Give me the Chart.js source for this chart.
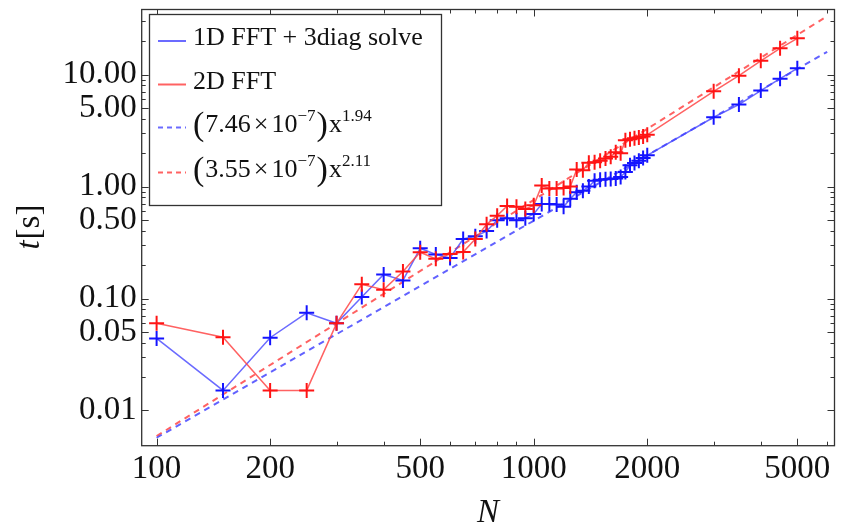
<!DOCTYPE html>
<html>
<head>
<meta charset="utf-8">
<script src="https://cdn.jsdelivr.net/npm/chart.js@4.4.1/dist/chart.umd.min.js"></script>
<style>
  html, body { margin: 0; padding: 0; background: #fff; }
  #wrap { width: 844px; height: 531px; }
</style>
</head>
<body>
<div id="wrap"><canvas id="timingChart" width="844" height="531"></canvas></div>
<script>
// grid sizes N and measured run times t[s]
const nValues = [100, 150, 200, 250, 300, 350, 400, 450, 500, 550,
  600, 650, 700, 750, 800, 850, 900, 950, 1000, 1050,
  1100, 1150, 1200, 1250, 1300, 1350, 1400, 1450, 1500, 1550,
  1600, 1650, 1700, 1750, 1800, 1850, 1900, 1950, 2000, 3000,
  3500, 4000, 4500, 5000];
const fftSolveTimes = [0.044, 0.0151, 0.0446, 0.0745, 0.060, 0.103, 0.164, 0.145, 0.281, 0.247,
  0.230, 0.340, 0.360, 0.400, 0.500, 0.520, 0.500, 0.520, 0.570, 0.700,
  0.700, 0.690, 0.660, 0.780, 0.890, 0.920, 1.000, 1.130, 1.150, 1.160,
  1.170, 1.180, 1.220, 1.350, 1.550, 1.620, 1.700, 1.800, 1.900, 4.16,
  5.40, 7.20, 9.20, 11.4];
const fft2dTimes = [0.060, 0.0451, 0.0151, 0.0151, 0.060, 0.134, 0.120, 0.174, 0.259, 0.226,
  0.250, 0.260, 0.340, 0.460, 0.550, 0.670, 0.660, 0.630, 0.680, 1.020,
  0.960, 0.960, 0.970, 1.000, 1.420, 1.400, 1.630, 1.650, 1.700, 1.780,
  1.850, 2.030, 1.980, 2.600, 2.650, 2.700, 2.750, 2.800, 2.900, 7.10,
  9.80, 13.3, 17.2, 21.1];

// power-law fits, end points
const fitN = [100, 6000];
const fftSolveFit = [0.0057, 16.0];
const fft2dFit = [0.0059, 33.3];

const seriesNames = ['1D FFT + 3diag solve', '2D FFT'];
const fitCoefficients = ['7.46', '3.55'];
const fitExponents = ['1.94', '2.11'];

const xTickValues = [100, 200, 500, 1000, 2000, 5000];
const xMinorTicks = [300, 400, 600, 700, 800, 900, 3000, 4000, 6000];
const yTickValues = [0.01, 0.05, 0.1, 0.5, 1, 5, 10];
const yMinorTicks = [0.02, 0.03, 0.04, 0.06, 0.07, 0.08, 0.09, 0.2, 0.3, 0.4,
  0.6, 0.7, 0.8, 0.9, 2, 3, 4, 6, 7, 8, 9, 20, 30];

const BLUE = 'rgb(20,20,255)';
const BLUE_LINE = 'rgba(70,70,255,0.8)';
const RED = 'rgb(255,20,20)';
const RED_LINE = 'rgba(255,70,70,0.85)';
const SERIF = '"Liberation Serif", "DejaVu Serif", serif';

const toPoints = (xs, ys) => xs.map((x, i) => ({ x: x, y: ys[i] }));

const frameTicks = {
  id: 'frameTicks',
  afterDatasetsDraw(chart) {
    const { ctx, chartArea: a, scales } = chart;
    ctx.save();
    ctx.strokeStyle = '#333';
    ctx.lineWidth = 1.3;
    ctx.strokeRect(a.left, a.top, a.width, a.height);
    ctx.lineWidth = 1;
    const xTick = (v, len) => {
      const px = Math.round(scales.x.getPixelForValue(v)) + 0.5;
      ctx.beginPath();
      ctx.moveTo(px, a.bottom); ctx.lineTo(px, a.bottom - len);
      ctx.moveTo(px, a.top); ctx.lineTo(px, a.top + len);
      ctx.stroke();
    };
    const yTick = (v, len) => {
      const py = Math.round(scales.y.getPixelForValue(v)) + 0.5;
      ctx.beginPath();
      ctx.moveTo(a.left, py); ctx.lineTo(a.left + len, py);
      ctx.moveTo(a.right, py); ctx.lineTo(a.right - len, py);
      ctx.stroke();
    };
    xTickValues.forEach(v => xTick(v, 7));
    xMinorTicks.forEach(v => xTick(v, 4));
    yTickValues.forEach(v => yTick(v, 7));
    yMinorTicks.forEach(v => yTick(v, 4));

    // axis titles
    ctx.fillStyle = '#111';
    ctx.textAlign = 'center';
    ctx.textBaseline = 'middle';
    ctx.font = 'italic 33px ' + SERIF;
    ctx.fillText('N', (a.left + a.right) / 2, 513);

    ctx.translate(30, (a.top + a.bottom) / 2);
    ctx.rotate(-Math.PI / 2);
    ctx.textAlign = 'left';
    ctx.font = 'italic 33px ' + SERIF;
    const wT = ctx.measureText('t').width;
    ctx.font = '33px ' + SERIF;
    const wS = ctx.measureText('[s]').width;
    let sx = -(wT + wS) / 2;
    ctx.font = 'italic 33px ' + SERIF;
    ctx.fillText('t', sx, 0);
    ctx.font = '33px ' + SERIF;
    ctx.fillText('[s]', sx + wT + 1, 0);
    ctx.restore();
  }
};

const insetLegend = {
  id: 'insetLegend',
  afterDraw(chart) {
    const ctx = chart.ctx;
    ctx.save();
    ctx.fillStyle = '#fff';
    ctx.fillRect(149.5, 14.5, 292, 191);
    ctx.strokeStyle = '#333';
    ctx.lineWidth = 1.3;
    ctx.strokeRect(149.5, 14.5, 292, 191);

    const baselines = [45, 88.5, 131.5, 176.5];
    const colors = [BLUE_LINE, RED_LINE, BLUE_LINE, RED_LINE];
    const textX = 193;
    baselines.forEach((b, i) => {
      ctx.strokeStyle = colors[i];
      ctx.lineWidth = 2;
      ctx.setLineDash(i < 2 ? [] : [5, 4]);
      ctx.beginPath();
      ctx.moveTo(158, b - 4);
      ctx.lineTo(186, b - 4);
      ctx.stroke();
    });
    ctx.setLineDash([]);
    ctx.fillStyle = '#111';
    ctx.textBaseline = 'alphabetic';
    ctx.textAlign = 'left';
    ctx.font = '26px ' + SERIF;
    ctx.fillText(seriesNames[0], textX, baselines[0]);
    ctx.fillText(seriesNames[1], textX, baselines[1]);

    [0, 1].forEach(i => {
      const b = baselines[i + 2];
      let x = textX;
      const put = (txt, font, dy, gap) => {
        ctx.font = font;
        ctx.fillText(txt, x, b + dy);
        x += ctx.measureText(txt).width + (gap || 0);
      };
      put('(', '34px ' + SERIF, 3, 1);
      put(fitCoefficients[i], '26px ' + SERIF, 0, 3);
      put('\u00d7', '26px ' + SERIF, 0, 3);
      put('10', '26px ' + SERIF, 0, 0);
      put('\u22127', '17px ' + SERIF, -11, 1);
      put(')', '34px ' + SERIF, 3, 1);
      put('x', '26px ' + SERIF, 0, 0);
      put(fitExponents[i], '17px ' + SERIF, -11, 0);
    });
    ctx.restore();
  }
};

new Chart(document.getElementById('timingChart'), {
  type: 'line',
  data: {
    datasets: [
      {
        label: seriesNames[1],
        data: toPoints(nValues, fft2dTimes),
        borderColor: RED_LINE,
        borderWidth: 1.5,
        pointStyle: 'cross',
        pointRadius: 7.5,
        pointBorderWidth: 2,
        pointBorderColor: RED,
        fill: false,
        order: 1
      },
      {
        label: seriesNames[0],
        data: toPoints(nValues, fftSolveTimes),
        borderColor: BLUE_LINE,
        borderWidth: 1.5,
        pointStyle: 'cross',
        pointRadius: 7.5,
        pointBorderWidth: 2,
        pointBorderColor: BLUE,
        fill: false,
        order: 2
      },
      {
        label: 'fit 1D',
        data: toPoints(fitN, fftSolveFit),
        borderColor: 'rgba(70,70,255,0.85)',
        borderWidth: 2,
        borderDash: [6, 5],
        pointRadius: 0,
        fill: false,
        order: 3
      },
      {
        label: 'fit 2D',
        data: toPoints(fitN, fft2dFit),
        borderColor: 'rgba(255,70,70,0.85)',
        borderWidth: 2,
        borderDash: [6, 5],
        pointRadius: 0,
        fill: false,
        order: 4
      }
    ]
  },
  options: {
    responsive: false,
    devicePixelRatio: 1,
    animation: false,
    layout: { padding: { top: 8.5, right: 1, left: 0, bottom: 0 } },
    plugins: { legend: { display: false }, tooltip: { enabled: false } },
    scales: {
      x: {
        type: 'logarithmic',
        min: 91.3,
        max: 6274,
        grid: { display: false, drawTicks: false },
        border: { display: false },
        afterBuildTicks: s => { s.ticks = xTickValues.map(v => ({ value: v })); },
        afterFit: s => {
          s.height = 85.3;
          s.paddingLeft = 0; s.paddingRight = 0;
          s.paddingTop = 0; s.paddingBottom = 0;
        },
        ticks: {
          autoSkip: false,
          maxRotation: 0,
          padding: 4,
          color: '#111',
          font: { family: SERIF, size: 33 },
          callback: v => String(v)
        }
      },
      y: {
        type: 'logarithmic',
        min: 0.00484,
        max: 38.2,
        grid: { display: false, drawTicks: false },
        border: { display: false },
        afterBuildTicks: s => { s.ticks = yTickValues.map(v => ({ value: v })); },
        afterFit: s => {
          s.width = 141.7;
          s.paddingLeft = 0; s.paddingRight = 0;
          s.paddingTop = 0; s.paddingBottom = 0;
        },
        ticks: {
          autoSkip: false,
          padding: 5,
          color: '#111',
          font: { family: SERIF, size: 33 },
          callback: v => Number(v).toFixed(2)
        }
      }
    }
  },
  plugins: [frameTicks, insetLegend]
});
</script>
</body>
</html>
